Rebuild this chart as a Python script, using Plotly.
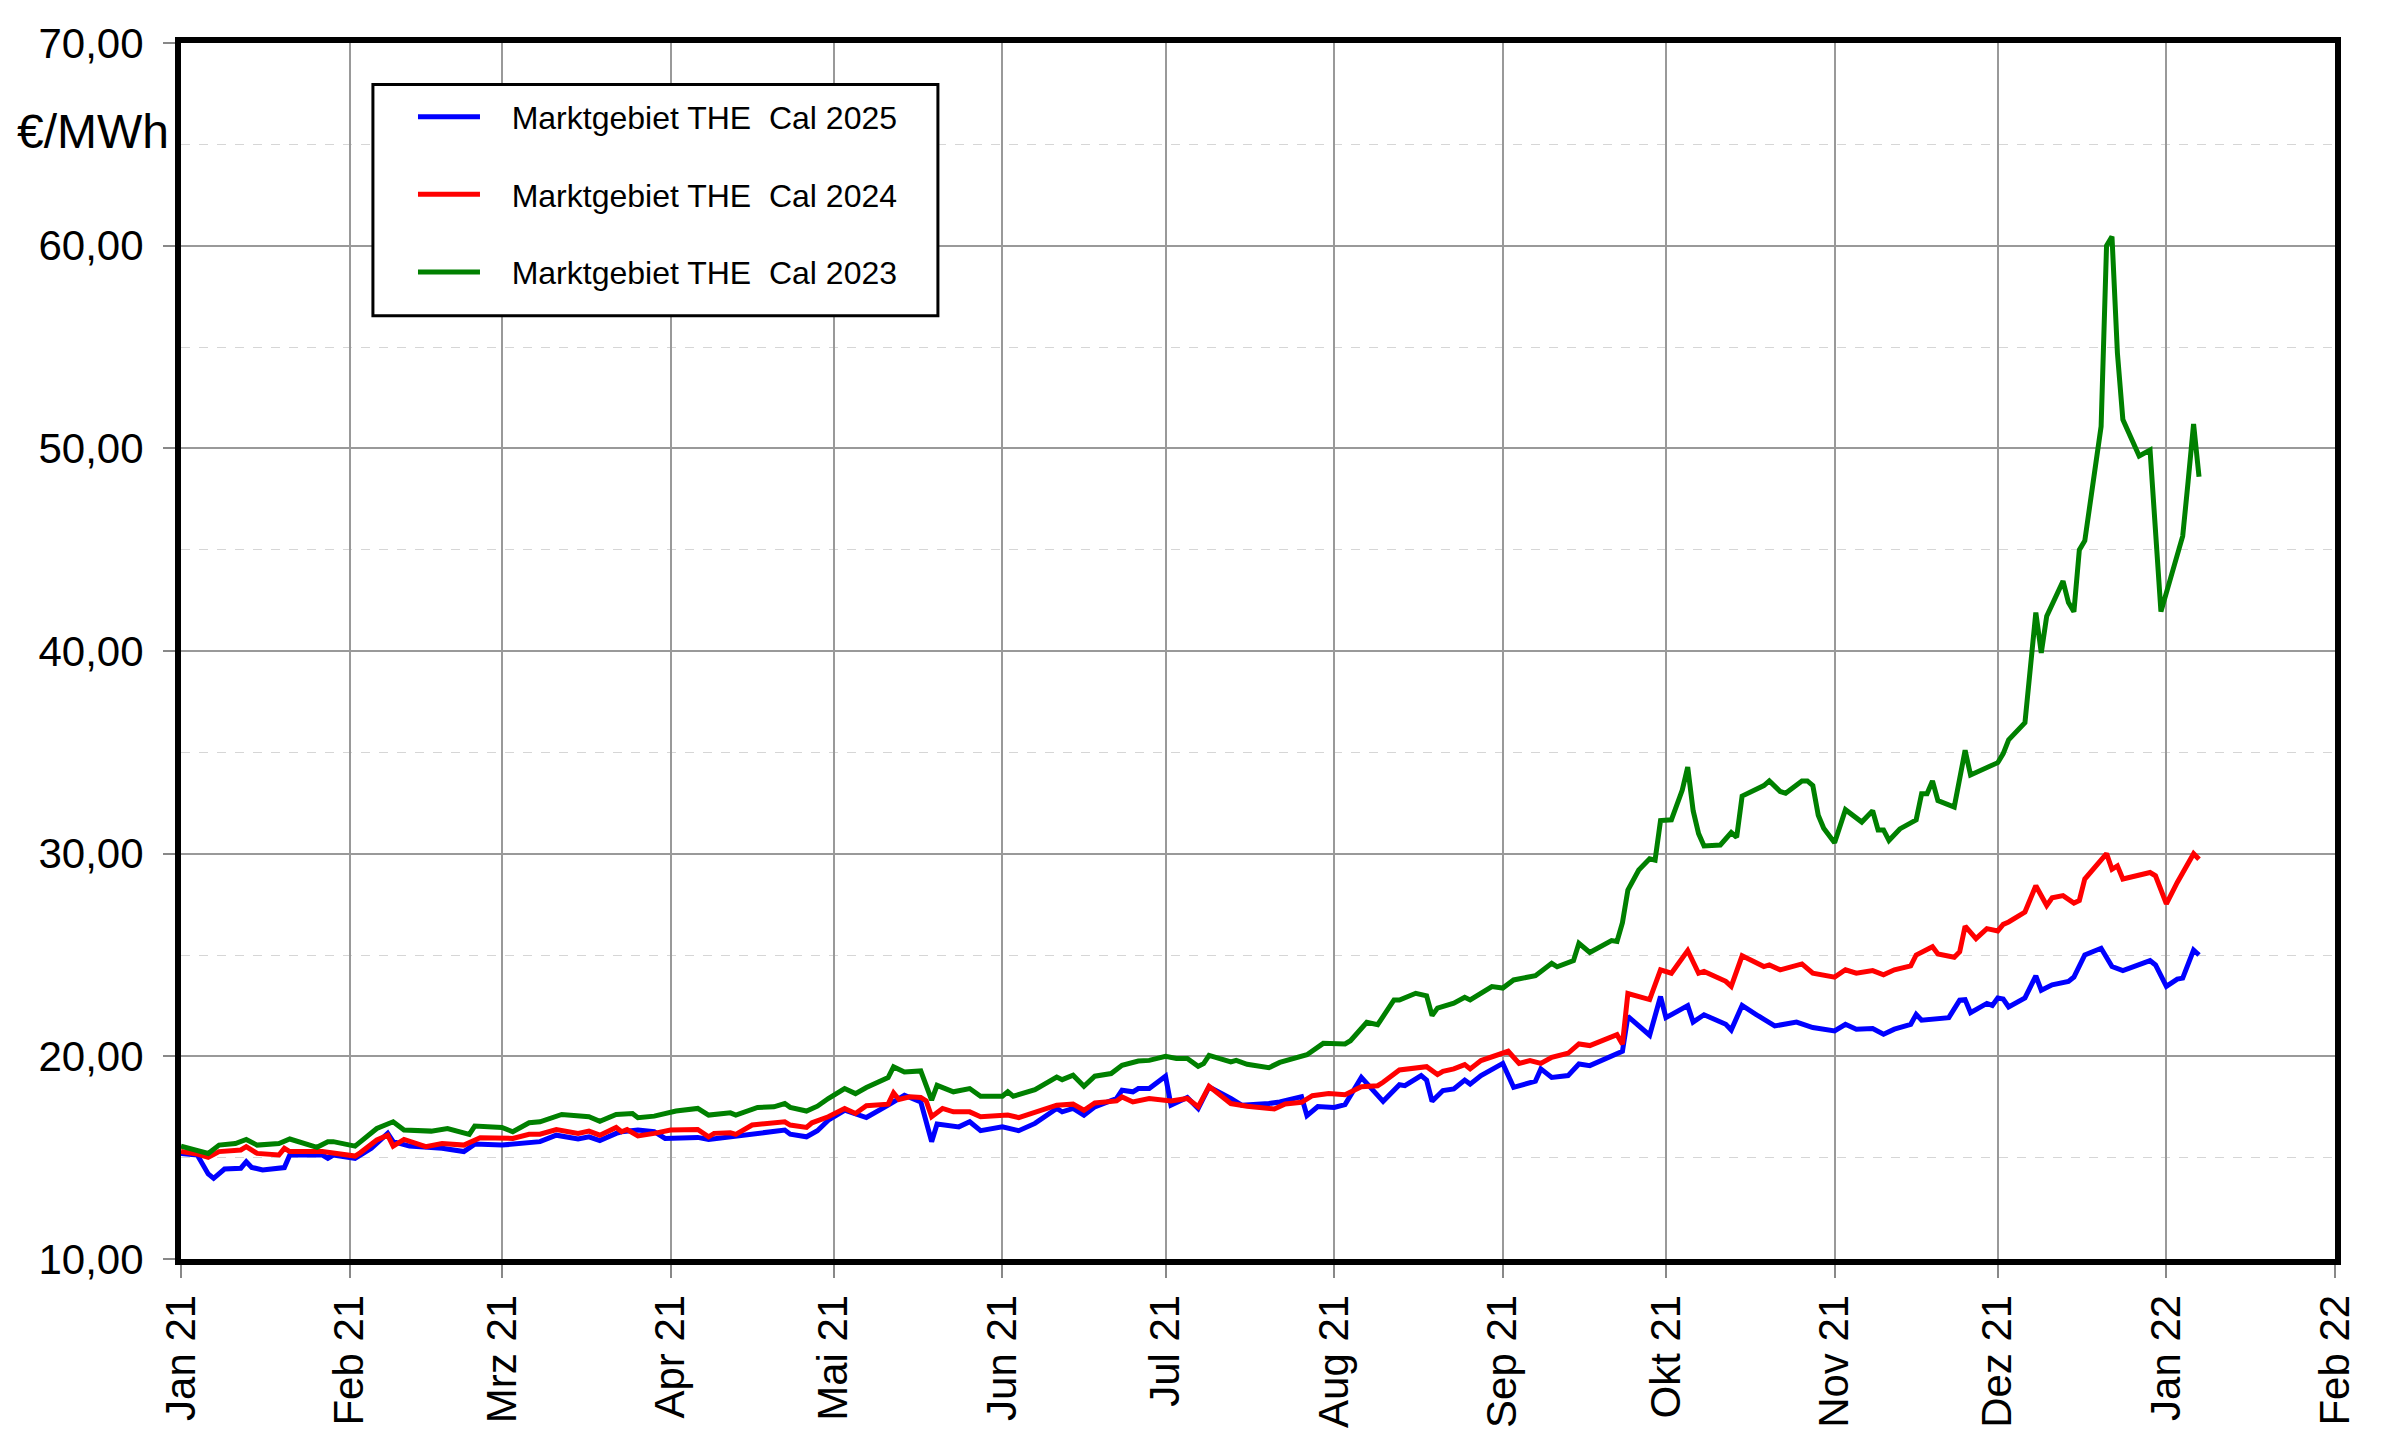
import pandas as pd
import plotly.graph_objects as go

# days after 1 Jan 2021
start = pd.Timestamp("2021-01-01")

day_2025 = [0, 3, 5, 6, 8, 11, 12, 13, 15, 19,
            20, 26, 27, 28, 32, 35, 38, 39, 42, 48,
            52, 54, 59, 63, 66, 69, 73, 75, 77, 80,
            81, 84, 87, 89, 95, 97, 101, 106, 111, 112,
            115, 117, 119, 122, 124, 126, 130, 132, 133, 136,
            137, 138, 139, 143, 145, 147, 151, 154, 157, 161,
            162, 164, 166, 168, 172, 173, 175, 176, 178, 181,
            182, 185, 187, 189, 193, 195, 200, 202, 206, 207,
            209, 212, 214, 217, 221, 224, 225, 228, 229, 230,
            232, 234, 236, 237, 239, 243, 245, 249, 250, 252,
            255, 257, 259, 263, 265, 266, 270, 272, 273, 277,
            278, 280, 284, 285, 287, 290, 293, 297, 300, 304,
            306, 308, 311, 313, 315, 318, 319, 320, 322, 325,
            327, 328, 329, 332, 333, 334, 335, 336, 339, 341,
            342, 344, 347, 348, 350, 351, 353, 355, 357, 362,
            363, 365, 367, 368, 370, 371]
cal_2025 = [15.21, 15.13, 14.20, 13.98, 14.44, 14.48, 14.80, 14.52, 14.39, 14.51,
            15.13, 15.13, 14.97, 15.13, 14.97, 15.46, 16.20, 15.79, 15.57, 15.46,
            15.30, 15.67, 15.62, 15.74, 15.79, 16.11, 15.92, 16.03, 15.84, 16.20,
            16.28, 16.36, 16.28, 15.95, 16.00, 15.90, 16.03, 16.23, 16.36, 16.16,
            16.03, 16.33, 16.85, 17.34, 17.18, 16.98, 17.59, 17.87, 18.08, 17.75,
            16.85, 15.79, 16.66, 16.52, 16.77, 16.33, 16.52, 16.33, 16.69, 17.43,
            17.26, 17.43, 17.10, 17.51, 17.92, 18.33, 18.25, 18.41, 18.41, 19.02,
            17.59, 17.97, 17.43, 18.49, 17.92, 17.59, 17.67, 17.75, 18.01, 17.07,
            17.52, 17.48, 17.62, 18.96, 17.78, 18.60, 18.55, 19.05, 18.83, 17.78,
            18.31, 18.39, 18.83, 18.63, 19.05, 19.65, 18.47, 18.77, 19.38, 18.96,
            19.05, 19.62, 19.54, 20.03, 20.25, 21.97, 21.04, 22.95, 21.91, 22.50,
            21.69, 22.05, 21.58, 21.30, 22.51, 21.99, 21.50, 21.69, 21.42, 21.25,
            21.58, 21.34, 21.37, 21.09, 21.34, 21.58, 22.07, 21.78, 21.82, 21.91,
            22.77, 22.80, 22.15, 22.61, 22.51, 22.88, 22.83, 22.44, 22.88, 23.97,
            23.26, 23.53, 23.70, 23.91, 25.00, 25.11, 25.33, 24.43, 24.23, 24.72,
            24.51, 23.45, 23.81, 23.86, 25.24, 25.00]

day_2024 = [0, 3, 5, 7, 11, 12, 14, 18, 19, 20,
            26, 32, 33, 36, 38, 39, 41, 45, 48, 52,
            55, 61, 64, 66, 69, 73, 75, 77, 80, 81,
            82, 84, 87, 90, 95, 97, 98, 101, 102, 105,
            111, 112, 115, 116, 119, 122, 124, 126, 130, 131,
            132, 134, 136, 137, 138, 140, 142, 145, 147, 151,
            152, 154, 157, 161, 164, 166, 168, 172, 173, 175,
            178, 182, 185, 187, 189, 193, 196, 199, 201, 203,
            206, 208, 211, 214, 217, 220, 221, 224, 227, 229,
            231, 232, 234, 236, 237, 239, 244, 246, 248, 250,
            252, 255, 257, 259, 264, 265, 266, 270, 272, 274,
            277, 279, 280, 284, 285, 287, 291, 292, 294, 298,
            300, 304, 306, 308, 311, 313, 315, 318, 319, 322,
            323, 326, 327, 328, 330, 332, 334, 335, 336, 339,
            341, 343, 344, 346, 348, 349, 350, 351, 354, 355,
            356, 357, 362, 363, 365, 367, 370, 371]
cal_2024 = [15.30, 15.18, 15.02, 15.30, 15.38, 15.54, 15.21, 15.13, 15.46, 15.30,
            15.30, 15.08, 15.25, 15.87, 16.11, 15.57, 15.90, 15.54, 15.70, 15.62,
            15.98, 15.95, 16.15, 16.16, 16.39, 16.20, 16.31, 16.11, 16.49, 16.28,
            16.39, 16.07, 16.20, 16.36, 16.39, 16.03, 16.20, 16.23, 16.15, 16.61,
            16.77, 16.61, 16.49, 16.72, 17.02, 17.43, 17.18, 17.56, 17.64, 18.20,
            17.87, 18.00, 17.97, 17.80, 17.02, 17.43, 17.26, 17.26, 17.02, 17.05,
            17.10, 16.98, 17.26, 17.59, 17.64, 17.34, 17.70, 17.80, 18.00, 17.75,
            17.92, 17.80, 17.92, 17.51, 18.52, 17.67, 17.54, 17.48, 17.40, 17.65,
            17.73, 18.06, 18.17, 18.11, 18.50, 18.55, 18.72, 19.33, 19.42, 19.49,
            19.10, 19.26, 19.38, 19.59, 19.38, 19.79, 20.25, 19.65, 19.79, 19.65,
            19.95, 20.15, 20.61, 20.53, 21.07, 20.60, 23.10, 22.80, 24.27, 24.10,
            25.22, 24.10, 24.19, 23.70, 23.45, 24.96, 24.43, 24.51, 24.27, 24.56,
            24.10, 23.91, 24.27, 24.10, 24.23, 24.02, 24.27, 24.46, 25.00, 25.41,
            25.05, 24.89, 25.16, 26.42, 25.81, 26.30, 26.19, 26.51, 26.63, 27.12,
            28.42, 27.44, 27.82, 27.93, 27.56, 27.69, 28.75, 29.07, 30.00, 29.23,
            29.40, 28.75, 29.07, 28.91, 27.52, 28.58, 30.00, 29.72]

day_2023 = [0, 5, 7, 10, 12, 14, 18, 20, 25, 27,
            28, 32, 36, 39, 41, 46, 49, 53, 54, 59,
            61, 64, 66, 70, 75, 77, 80, 83, 84, 87,
            91, 95, 97, 101, 102, 106, 109, 111, 112, 115,
            117, 119, 122, 124, 126, 130, 131, 133, 136, 138,
            139, 142, 145, 147, 151, 152, 153, 157, 161, 162,
            164, 166, 168, 171, 173, 176, 178, 181, 183, 185,
            187, 188, 189, 193, 194, 196, 200, 202, 207, 209,
            210, 214, 215, 218, 220, 223, 224, 227, 229, 230,
            231, 234, 236, 237, 241, 243, 245, 249, 252, 253,
            256, 257, 259, 263, 264, 265, 266, 268, 270, 271,
            272, 274, 276, 277, 278, 279, 280, 283, 285, 286,
            287, 291, 292, 294, 295, 298, 299, 300, 301, 302,
            304, 306, 309, 311, 312, 313, 314, 316, 319, 320,
            321, 322, 323, 326, 328, 329, 334, 335, 336, 339,
            341, 342, 343, 346, 347, 348, 349, 350, 353, 354,
            355, 356, 357, 360, 362, 364, 368, 369, 370, 371]
cal_2023 = [15.57, 15.21, 15.62, 15.70, 15.90, 15.62, 15.70, 15.92, 15.51, 15.79,
            15.79, 15.57, 16.44, 16.77, 16.36, 16.31, 16.44, 16.15, 16.56, 16.49,
            16.28, 16.72, 16.77, 17.13, 17.02, 16.80, 17.13, 17.18, 16.97, 17.05,
            17.30, 17.43, 17.10, 17.21, 17.10, 17.48, 17.51, 17.67, 17.48, 17.30,
            17.54, 17.92, 18.41, 18.16, 18.46, 18.95, 19.48, 19.23, 19.28, 17.84,
            18.57, 18.25, 18.41, 18.03, 18.03, 18.25, 18.03, 18.36, 18.98, 18.85,
            19.07, 18.52, 19.02, 19.15, 19.56, 19.77, 19.80, 20.00, 19.89, 19.89,
            19.51, 19.64, 20.05, 19.72, 19.80, 19.61, 19.44, 19.70, 20.08, 20.41,
            20.64, 20.61, 20.77, 21.68, 21.56, 22.78, 22.78, 23.11, 22.99, 22.01,
            22.38, 22.62, 22.91, 22.78, 23.44, 23.37, 23.77, 23.98, 24.59, 24.42,
            24.72, 25.58, 25.13, 25.71, 25.67, 26.60, 28.20, 29.19, 29.75, 29.68,
            31.63, 31.67, 33.14, 34.27, 32.12, 30.99, 30.38, 30.43, 31.04, 30.81,
            32.84, 33.36, 33.59, 33.07, 32.98, 33.59, 33.59, 33.36, 31.90, 31.26,
            30.54, 32.17, 31.56, 32.12, 31.17, 31.17, 30.65, 31.22, 31.67, 32.96,
            32.96, 33.59, 32.62, 32.30, 35.10, 33.88, 34.49, 34.94, 35.62, 36.46,
            41.90, 39.91, 41.72, 43.45, 42.39, 41.94, 44.99, 45.44, 51.08, 60.00,
            60.45, 54.70, 51.42, 49.62, 49.91, 41.94, 45.67, 48.37, 51.20, 48.60]

month_ticks = pd.date_range("2021-01-01", "2022-02-01", freq="MS")
month_labels = ["Jan 21", "Feb 21", "Mrz 21", "Apr 21", "Mai 21", "Jun 21", "Jul 21",
                "Aug 21", "Sep 21", "Okt 21", "Nov 21", "Dez 21", "Jan 22", "Feb 22"]

series = [
    ("Marktgebiet THE  Cal 2025", day_2025, cal_2025, "#0000ff"),
    ("Marktgebiet THE  Cal 2024", day_2024, cal_2024, "#ff0000"),
    ("Marktgebiet THE  Cal 2023", day_2023, cal_2023, "#008000"),
]

gap = "\u00a0" * 3  # space between legend line and its text

fig = go.Figure()
for name, days, vals, col in series:
    fig.add_trace(go.Scatter(
        x=start + pd.to_timedelta(days, unit="D"),
        y=vals,
        mode="lines",
        name=gap + name,
        legendgroup=name,
        line=dict(color=col, width=5),
    ))

# framed box behind the legend (legend itself has no border)
fig.add_shape(
    type="rect", xref="paper", yref="paper",
    x0=0.0891, x1=0.3514, y0=0.7758, y1=0.9659,
    line=dict(color="black", width=3), fillcolor="white", layer="above",
)

fig.update_layout(
    width=2400,
    height=1438,
    margin=dict(l=173, r=73, t=31, b=187),
    paper_bgcolor="white",
    plot_bgcolor="white",
    separators=",.",
    font=dict(family="Liberation Sans, Arial, sans-serif", color="black"),
    legend=dict(
        x=0.1077, y=0.9618, xanchor="left", yanchor="top",
        bgcolor="rgba(0,0,0,0)", borderwidth=0,
        font=dict(size=32),
        tracegroupgap=33,
        itemwidth=62,
    ),
    annotations=[dict(
        text="€/MWh", xref="paper", yref="paper", x=-0.0409, y=0.927,
        xanchor="center", yanchor="middle", showarrow=False,
        font=dict(size=48),
    )],
)

fig.update_xaxes(
    type="date",
    range=["2021-01-01", "2022-02-01"],
    tickvals=month_ticks,
    ticktext=month_labels,
    tickangle=-90,
    tickfont=dict(size=42),
    ticks="outside", ticklen=13, tickwidth=2, tickcolor="#888888",
    showgrid=True, gridcolor="#999999", gridwidth=1.5,
    showline=True, linecolor="black", linewidth=6, mirror=True,
    zeroline=False,
)

fig.update_yaxes(
    range=[10, 70],
    tick0=10, dtick=10,
    tickformat=".2f",
    tickfont=dict(size=42),
    ticks="outside", ticklen=12, tickwidth=2, tickcolor="#888888",
    ticklabelstandoff=11,
    showgrid=True, gridcolor="#999999", gridwidth=1.5,
    minor=dict(dtick=5, showgrid=True, gridcolor="#d6d6d6", griddash="dash", gridwidth=1),
    showline=True, linecolor="black", linewidth=6, mirror=True,
    zeroline=False,
)

fig.write_html("out.html")
